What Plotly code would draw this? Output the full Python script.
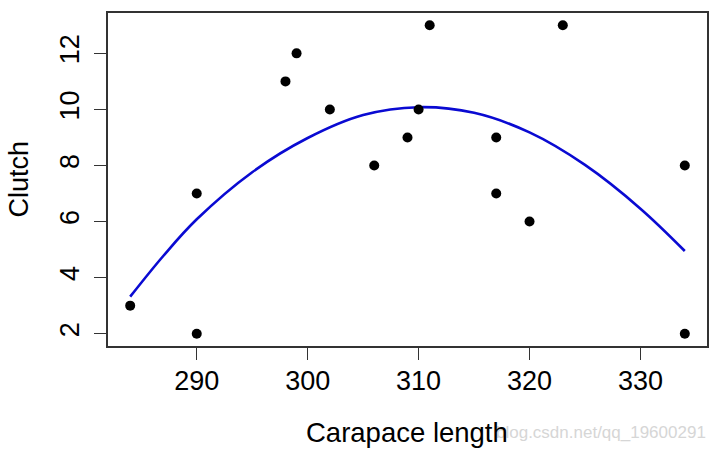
import plotly.graph_objects as go

# Scatter data (carapace length vs clutch size)
length = [284, 290, 290, 298, 299, 302, 306, 309, 310, 311, 317, 317, 320, 323, 334, 334]
clutch = [3, 7, 2, 11, 12, 10, 8, 9, 10, 13, 9, 7, 6, 13, 8, 2]

# Fitted curve, values
curve_x = [284, 287, 290, 295, 300, 305, 310, 315, 320, 325, 330, 334]
curve_y = [3.32, 4.78, 6.08, 7.76, 8.98, 9.80, 10.08, 9.88, 9.18, 8.02, 6.46, 4.95]

x_ticks = [290, 300, 310, 320, 330]
y_ticks = [2, 4, 6, 8, 10, 12]

FONT = "Liberation Sans, Arial, Helvetica, sans-serif"

fig = go.Figure()
fig.add_trace(go.Scatter(
    x=curve_x, y=curve_y, mode="lines",
    line=dict(color="#0A0AD2", width=2.6, shape="spline", smoothing=1.0),
    hoverinfo="skip", showlegend=False,
))
fig.add_trace(go.Scatter(
    x=length, y=clutch, mode="markers",
    marker=dict(color="black", size=10),
    showlegend=False,
))

axis_common = dict(
    showgrid=False, zeroline=False, showline=True, mirror=True,
    linecolor="#333333", linewidth=1.5,
    ticks="outside", ticklen=12, tickwidth=1.2, tickcolor="#333333",
    tickfont=dict(family=FONT, size=27, color="black"),
)

fig.update_xaxes(range=[282, 336], tickvals=x_ticks, ticktext=[str(v) for v in x_ticks],
                 ticklabelstandoff=-2, **axis_common)
fig.update_yaxes(range=[1.56, 13.44], tickvals=y_ticks, ticktext=[str(v) for v in y_ticks],
                 tickangle=-90, ticklabelstandoff=4, **axis_common)

fig.update_layout(
    width=720, height=452,
    margin=dict(l=108, r=13, t=11, b=106),
    paper_bgcolor="white", plot_bgcolor="white",
    font=dict(family=FONT, color="black"),
    annotations=[
        dict(text="blog.csdn.net/qq_19600291", xref="paper", yref="paper",
             x=(708 - 108) / 599, y=-87 / 335, xanchor="right", yanchor="middle",
             showarrow=False, font=dict(family=FONT, size=17, color="#d6d6d6")),
        dict(text="Carapace length", xref="paper", yref="paper",
             x=(406.5 - 108) / 599, y=-87 / 335, xanchor="center", yanchor="middle",
             showarrow=False, font=dict(family=FONT, size=27.5, color="black")),
        dict(text="Clutch", xref="paper", yref="paper",
             x=-90 / 599, y=0.5, xanchor="center", yanchor="middle", textangle=-90,
             showarrow=False, font=dict(family=FONT, size=27, color="black")),
    ],
)

fig.write_html("out.html")
